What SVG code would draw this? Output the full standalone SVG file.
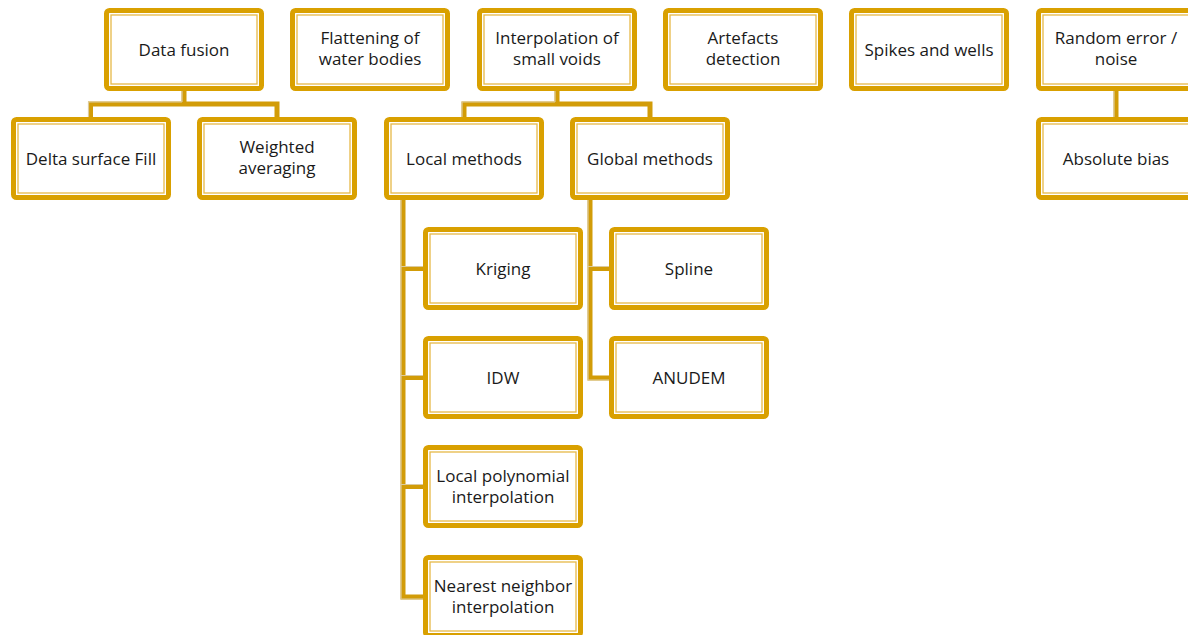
<svg xmlns="http://www.w3.org/2000/svg" width="1188" height="635" viewBox="0 0 1188 635">
<style>
.ob{fill:#fff;stroke:#D9A000;stroke-width:5}
.ib{fill:none;stroke:#E6B948;stroke-width:1.3}
.t{font-family:"Open Sans","Noto Sans",sans-serif;font-size:17px;fill:#1a1a1a;text-anchor:middle}
.c{fill:none;stroke:#D29C08;stroke-width:5}
.cl{fill:none;stroke:#DCCB9E;stroke-width:1.2}
</style>
<defs>
<g id="box">
<rect class="ob" x="2.5" y="2.5" width="155" height="78" rx="3"/>
<rect class="ib" x="7" y="7" width="146" height="69"/>
</g>
</defs>
<g id="connectors">
<path class="c" d="M184,91V104M90.5,117V104H277V117"/>
<path class="cl" d="M182,91V102M88.5,117V102H182"/>
<path class="c" d="M557,91V104M464,117V104H650V117"/>
<path class="cl" d="M555,91V102M462,117V102H555"/>
<path class="c" d="M1116,91V117"/>
<path class="cl" d="M1114,91V117"/>
<path class="c" d="M403,200V597H423M403,268.5H423M403,377.5H423M403,486.5H423"/>
<path class="cl" d="M401,200V599H423M401,266.5H423M401,375.5H423M401,484.5H423"/>
<path class="c" d="M590,200V378H609M590,268.5H609"/>
<path class="cl" d="M588,200V380H609M588,266.5H609"/>
</g>
<g id="n-datafusion"><use href="#box" x="104" y="8"/><text class="t" x="184" y="55.5">Data fusion</text></g>
<g id="n-flattening"><use href="#box" x="290" y="8"/><text class="t" x="370" y="44">Flattening of</text><text class="t" x="370" y="65">water bodies</text></g>
<g id="n-interp"><use href="#box" x="477" y="8"/><text class="t" x="557" y="44">Interpolation of</text><text class="t" x="557" y="65">small voids</text></g>
<g id="n-artefacts"><use href="#box" x="663" y="8"/><text class="t" x="743" y="44">Artefacts</text><text class="t" x="743" y="65">detection</text></g>
<g id="n-spikes"><use href="#box" x="849" y="8"/><text class="t" x="929" y="55.5">Spikes and wells</text></g>
<g id="n-random"><use href="#box" x="1036" y="8"/><text class="t" x="1116" y="44">Random error /</text><text class="t" x="1116" y="65">noise</text></g>
<g id="n-delta"><use href="#box" x="11" y="117"/><text class="t" x="91" y="164.5">Delta surface Fill</text></g>
<g id="n-weighted"><use href="#box" x="197" y="117"/><text class="t" x="277" y="153">Weighted</text><text class="t" x="277" y="174">averaging</text></g>
<g id="n-local"><use href="#box" x="384" y="117"/><text class="t" x="464" y="164.5">Local methods</text></g>
<g id="n-global"><use href="#box" x="570" y="117"/><text class="t" x="650" y="164.5">Global methods</text></g>
<g id="n-absbias"><use href="#box" x="1036" y="117"/><text class="t" x="1116" y="164.5">Absolute bias</text></g>
<g id="n-kriging"><use href="#box" x="423" y="227"/><text class="t" x="503" y="274.5">Kriging</text></g>
<g id="n-spline"><use href="#box" x="609" y="227"/><text class="t" x="689" y="274.5">Spline</text></g>
<g id="n-idw"><use href="#box" x="423" y="336"/><text class="t" x="503" y="383.5">IDW</text></g>
<g id="n-anudem"><use href="#box" x="609" y="336"/><text class="t" x="689" y="383.5">ANUDEM</text></g>
<g id="n-localpoly"><use href="#box" x="423" y="445"/><text class="t" x="503" y="482">Local polynomial</text><text class="t" x="503" y="503">interpolation</text></g>
<g id="n-nearest"><use href="#box" x="423" y="555"/><text class="t" x="503" y="592">Nearest neighbor</text><text class="t" x="503" y="613">interpolation</text></g>
</svg>
